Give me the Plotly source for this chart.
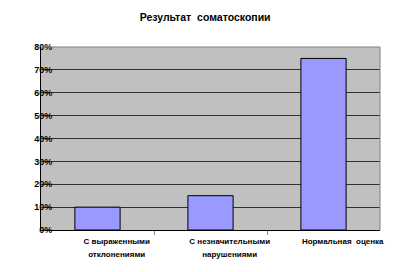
import plotly.graph_objects as go

title = "Результат  соматоскопии"
categories = ["С выраженными<br>отклонениями", "С незначительными<br>нарушениями", "Нормальная  оценка"]
values = [0.10, 0.15, 0.75]
y_ticks = [0, 0.1, 0.2, 0.3, 0.4, 0.5, 0.6, 0.7, 0.8]
y_labels = ["0%", "10%", "20%", "30%", "40%", "50%", "60%", "70%", "80%"]

xs = list(range(len(categories)))
font_family = "Liberation Sans, Arial, sans-serif"

fig = go.Figure()
fig.add_trace(go.Bar(
    x=xs, y=values, width=0.4,
    marker=dict(color="#9999FF", line=dict(color="#000000", width=1)),
    hoverinfo="skip",
))

fig.update_layout(
    width=396, height=272,
    margin=dict(l=41, r=12, t=47, b=42),
    paper_bgcolor="#FFFFFF",
    plot_bgcolor="#C0C0C0",
    showlegend=False,
    title=dict(text="<b>" + title + "</b>", x=0.518, xanchor="center", y=0.937, yanchor="middle",
               font=dict(family=font_family, size=10.5, color="#000000")),
    xaxis=dict(
        range=[-0.5, len(categories) - 0.5],
        tickvals=[i + 0.17 for i in xs],
        ticktext=["<span style='font-size:8px'><b>" + c.replace("<br>", "</b></span><br><span style='font-size:8px'><b>") + "</b></span>" for c in categories],
        ticks="",
        showgrid=False,
        zeroline=False,
        showline=True, linecolor="#000000", linewidth=1,
        mirror=False,
        tickfont=dict(family=font_family, size=10, color="#000000"),
        ticklabelstandoff=1,
        minor=dict(tickvals=[0.5, 1.5], ticks="outside", ticklen=4, tickcolor="#808080", tickwidth=1),
    ),
    yaxis=dict(
        range=[0, 0.8],
        tickvals=y_ticks,
        ticktext=["<b>" + t + "</b>" for t in y_labels],
        showgrid=True, gridcolor="#303030", gridwidth=1,
        zeroline=False,
        showline=True, linecolor="#000000", linewidth=1,
        ticks="",
        tickfont=dict(family=font_family, size=9, color="#000000"),
        ticklabelstandoff=-14,
    ),
    shapes=[
        dict(type="line", xref="paper", yref="paper", x0=0, x1=1, y0=1, y1=1,
             line=dict(color="#808080", width=1)),
        dict(type="line", xref="paper", yref="paper", x0=1, x1=1, y0=0, y1=1,
             line=dict(color="#808080", width=1)),
    ],
)

fig.write_html("out.html")
